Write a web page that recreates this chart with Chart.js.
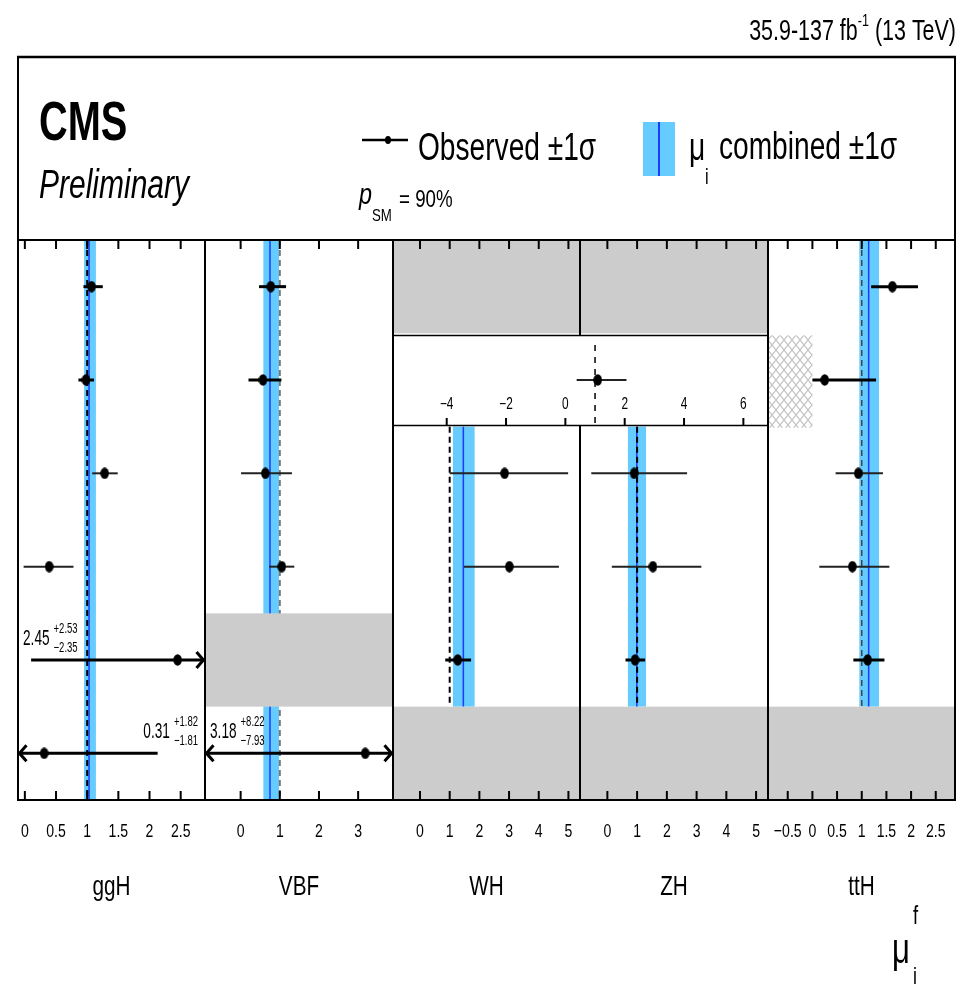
<!DOCTYPE html>
<html><head><meta charset="utf-8">
<script src="https://cdn.jsdelivr.net/npm/chart.js@4.4.0/dist/chart.umd.min.js"></script>
<style>
html,body{margin:0;padding:0;background:#fff;width:962px;height:986px;overflow:hidden;}
canvas{position:absolute;}
</style></head><body>
<canvas id="bg" width="962" height="986" style="left:0;top:0"></canvas>
<div id="panels"></div>
<canvas id="ov" width="962" height="986" style="left:0;top:0;pointer-events:none"></canvas>
<script>
// ---------------- data ----------------
const channels = ['γγ', 'ZZ', 'WW', 'ττ', 'bb', 'μμ'];
const modes = ['ggH', 'VBF', 'WH', 'ZH', 'ttH'];

// observed best fit and 68% CL interval bounds per decay channel (null = not measured)
const ggH_mu = [1.07, 0.98, 1.28, 0.39, 2.45, 0.31];
const ggH_lo = [0.94, 0.86, 1.08, -0.02, 0.10, -1.50];
const ggH_hi = [1.25, 1.11, 1.49, 0.78, 4.98, 2.13];
const VBF_mu = [0.77, 0.57, 0.63, 1.05, null, 3.18];
const VBF_lo = [0.47, 0.20, 0.01, 0.73, null, -4.75];
const VBF_hi = [1.16, 1.04, 1.31, 1.37, null, 11.40];
const WH_mu = [null, null, 2.85, 3.01, 1.27, null];
const WH_lo = [null, null, 1.00, 1.48, 0.85, null];
const WH_hi = [null, null, 4.99, 4.68, 1.72, null];
const ZH_mu = [null, null, 0.90, 1.53, 0.93, null];
const ZH_lo = [null, null, -0.54, 0.15, 0.61, null];
const ZH_hi = [null, null, 2.68, 3.16, 1.27, null];
const ttH_mu = [1.62, 0.25, 0.93, 0.81, 1.12, null];
const ttH_lo = [1.19, 0.00, 0.47, 0.14, 0.83, null];
const ttH_hi = [2.14, 1.29, 1.43, 1.56, 1.46, null];

// VH (WH+ZH merged) measurement for ZZ, shown in the inset
const VH_ZZ_mu = [1.09];
const VH_ZZ_lo = [0.38];
const VH_ZZ_hi = [2.06];

// combined signal strength per production mode
const comb_mu = [1.03, 0.75, 1.46, 0.99, 1.14];
const comb_lo = [0.95, 0.58, 1.11, 0.69, 0.95];
const comb_hi = [1.14, 0.98, 1.84, 1.30, 1.35];

// cells without a measurement (grey)
const ggH_na = [];
const VBF_na = [4];
const WH_na = [0, 5];
const ZH_na = [0, 5];
const ttH_na = [5];

// axis ranges and ticks
const ggH_range = [-0.11, 2.89];
const VBF_range = [-0.91, 3.89];
const WH_range = [-0.91, 5.39];
const ZH_range = [-0.92, 5.40];
const ttH_range = [-0.90, 2.89];
const ggH_ticks = [0, 0.5, 1, 1.5, 2, 2.5];
const VBF_ticks = [0, 1, 2, 3];
const WH_ticks = [0, 1, 2, 3, 4, 5];
const ZH_ticks = [0, 1, 2, 3, 4, 5];
const ttH_ticks = [-0.5, 0, 0.5, 1, 1.5, 2, 2.5];
const inset_range = [-5.81, 6.83];
const inset_ticks = [-4, -2, 0, 2, 4, 6];

const pSM = 90;
const lumiText = ['35.9-137 fb', '-1', ' (13 TeV)'];

// ---------------- styles ----------------
const FONT = '"Liberation Sans", Arial, Helvetica, sans-serif';
const BAND = '#66ccff', CENTRAL = '#1a3cff', GREY = '#cccccc';
const edges = [18, 205, 393, 580, 768, 955];
const TOP = 240, BOTTOM = 800;
const barWidth = [3, 3, 2, 2, 3, 3];
const smDash = ['#000', '#777', '#000', '#000', '#444'];
// annotated out-of-range points: [mode index, row, side]
const annot = [[0, 4, 'left'], [0, 5, 'right'], [1, 5, 'left']];

const MU = [ggH_mu, VBF_mu, WH_mu, ZH_mu, ttH_mu];
const LO = [ggH_lo, VBF_lo, WH_lo, ZH_lo, ttH_lo];
const HI = [ggH_hi, VBF_hi, WH_hi, ZH_hi, ttH_hi];
const NA = [ggH_na, VBF_na, WH_na, ZH_na, ttH_na];
const RANGE = [ggH_range, VBF_range, WH_range, ZH_range, ttH_range];
const TICKS = [ggH_ticks, VBF_ticks, WH_ticks, ZH_ticks, ttH_ticks];

function drawText(ctx, s, x, y, size, o = {}) {
  ctx.save();
  ctx.font = `${o.style || ''} ${o.weight || ''} ${size}px ${FONT}`;
  ctx.fillStyle = o.color || '#000';
  ctx.textBaseline = 'alphabetic';
  ctx.textAlign = 'left';
  const sx = o.sx || 0.74;
  const w = ctx.measureText(s).width * sx;
  let x0 = x;
  if (o.align === 'center') x0 = x - w / 2; else if (o.align === 'right') x0 = x - w;
  ctx.translate(x0, y); ctx.scale(sx, 1); ctx.fillText(s, 0, 0);
  ctx.restore();
  return w;
}
function measure(ctx, s, size, o = {}) {
  ctx.save(); ctx.font = `${o.style || ''} ${o.weight || ''} ${size}px ${FONT}`;
  const w = ctx.measureText(s).width * (o.sx || 0.74); ctx.restore(); return w;
}
function fmtTick(v) { return v < 0 ? '\u2212' + Math.abs(v) : String(v); }

// ellipse marker
const dot = document.createElement('canvas'); dot.width = 9; dot.height = 12;
{ const d = dot.getContext('2d'); d.fillStyle = '#000'; d.beginPath(); d.ellipse(4.5, 6, 4.3, 5.8, 0, 0, Math.PI * 2); d.fill(); }

function hatchPattern(ctx) {
  const p = document.createElement('canvas'); p.width = 8; p.height = 10;
  const g = p.getContext('2d'); g.strokeStyle = '#c4c4c4'; g.lineWidth = 1.2;
  g.beginPath(); g.moveTo(0, 0); g.lineTo(8, 10); g.moveTo(8, 0); g.lineTo(0, 10); g.stroke();
  return ctx.createPattern(p, 'repeat');
}

function errorBar(ctx, xs, y, lo, hi, lw, color) {
  const l = Math.max(lo, xs.min), h = Math.min(hi, xs.max);
  let pl = xs.getPixelForValue(l), ph = xs.getPixelForValue(h);
  if (lo < xs.min) pl = xs.left + 1.5;
  if (hi > xs.max) ph = xs.right - 1.5;
  ctx.save(); ctx.strokeStyle = color; ctx.lineWidth = lw; ctx.lineCap = 'butt';
  ctx.beginPath(); ctx.moveTo(pl, y); ctx.lineTo(ph, y); ctx.stroke();
  ctx.lineJoin = 'miter';
  if (lo < xs.min) { ctx.beginPath(); ctx.moveTo(pl + 7, y - 8); ctx.lineTo(pl, y); ctx.lineTo(pl + 7, y + 8); ctx.stroke(); }
  if (hi > xs.max) { ctx.beginPath(); ctx.moveTo(ph - 7, y - 8); ctx.lineTo(ph, y); ctx.lineTo(ph - 7, y + 8); ctx.stroke(); }
  ctx.restore();
}

function panelPlugin(k) {
  return {
    id: 'panel' + k,
    beforeDatasetsDraw(chart) {
      const ctx = chart.ctx, xs = chart.scales.x, ys = chart.scales.y, ca = chart.chartArea;
      const mu = MU[k], lo = LO[k], hi = HI[k];
      const rows = mu.map((v, i) => v == null ? -1 : i).filter(i => i >= 0);
      const r0 = Math.min(...rows), r1 = Math.max(...rows) + 1;
      const yb0 = ys.getPixelForValue(r0), yb1 = ys.getPixelForValue(r1);
      // combined band
      const bl = xs.getPixelForValue(comb_lo[k]), bh = xs.getPixelForValue(comb_hi[k]);
      ctx.fillStyle = BAND; ctx.fillRect(bl, yb0, bh - bl, yb1 - yb0);
      const bc = xs.getPixelForValue(comb_mu[k]);
      ctx.strokeStyle = CENTRAL; ctx.lineWidth = 1.5;
      ctx.beginPath(); ctx.moveTo(bc, yb0); ctx.lineTo(bc, yb1); ctx.stroke();
      // SM line
      const sm = xs.getPixelForValue(1);
      ctx.save(); ctx.strokeStyle = smDash[k]; ctx.lineWidth = k === 4 ? 1.5 : 2; ctx.setLineDash([6, 4]);
      ctx.beginPath(); ctx.moveTo(sm, yb0); ctx.lineTo(sm, yb1); ctx.stroke(); ctx.restore();
      // grey cells
      ctx.fillStyle = GREY;
      NA[k].forEach(r => {
        const a = ys.getPixelForValue(r), b = ys.getPixelForValue(r + 1);
        ctx.fillRect(ca.left, a, ca.right - ca.left, b - a);
      });
      // hatched physical boundary (ttH, ZZ: mu < 0)
      if (k === 4) {
        const a = ys.getPixelForValue(1), b = ys.getPixelForValue(2);
        ctx.fillStyle = hatchPattern(ctx);
        ctx.fillRect(ca.left + 1, a + 2, xs.getPixelForValue(0) - ca.left - 1, b - a - 1);
      }
      // error bars
      mu.forEach((v, i) => {
        if (v == null) return;
        const y = ys.getPixelForValue(i + 0.5);
        errorBar(ctx, xs, y, lo[i], hi[i], barWidth[i], barWidth[i] > 2 ? '#000' : '#222');
      });
      // ticks top and bottom
      ctx.strokeStyle = '#000'; ctx.lineWidth = 2;
      TICKS[k].forEach(t => {
        const px = xs.getPixelForValue(t);
        ctx.beginPath(); ctx.moveTo(px, ca.top); ctx.lineTo(px, ca.top + 9);
        ctx.moveTo(px, ca.bottom); ctx.lineTo(px, ca.bottom - 9); ctx.stroke();
        drawText(ctx, fmtTick(t), px, ca.bottom + 37, 19, { align: 'center', sx: 0.74 });
      });
      // production mode label
      drawText(ctx, modes[k], (ca.left + ca.right) / 2, ca.bottom + 95, 28, { align: 'center', sx: 0.74 });
      // annotations for out-of-range measurements
      annot.filter(a => a[0] === k).forEach(([m, r, side]) => {
        const v = mu[r];
        const main = v.toFixed(2), up = '+' + (hi[r] - v).toFixed(2), dn = '\u2212' + (v - lo[r]).toFixed(2);
        const yc = ys.getPixelForValue(r + 0.5);
        const wm = measure(ctx, main, 22, { sx: 0.62 });
        const ws = Math.max(measure(ctx, up, 14, { sx: 0.68 }), measure(ctx, dn, 14, { sx: 0.68 }));
        const total = wm + 4 + ws;
        const x0 = side === 'left' ? ca.left + 5 : ca.right - 7 - total;
        drawText(ctx, main, x0, yc - 15, 22, { sx: 0.62 });
        drawText(ctx, up, x0 + wm + 4, yc - 27, 14, { sx: 0.68 });
        drawText(ctx, dn, x0 + wm + 4, yc - 8, 14, { sx: 0.68 });
      });
    }
  };
}

const holder = document.getElementById('panels');
for (let k = 0; k < 5; k++) {
  const cv = document.createElement('canvas');
  const W = edges[k + 1] - edges[k], H = 986 - TOP;
  cv.width = W; cv.height = H;
  cv.style.left = edges[k] + 'px'; cv.style.top = TOP + 'px';
  cv.style.width = W + 'px'; cv.style.height = H + 'px';
  holder.appendChild(cv);
  const pts = MU[k].map((v, i) => v == null ? null : { x: v, y: i + 0.5 }).filter(p => p);
  new Chart(cv, {
    type: 'scatter',
    data: { datasets: [{ label: modes[k], data: pts, pointStyle: dot, pointRadius: 6, clip: false }] },
    options: {
      responsive: false, animation: false, devicePixelRatio: 1, events: [],
      layout: { autoPadding: false, padding: { left: 0, right: 0, top: 0, bottom: H - (BOTTOM - TOP) } },
      plugins: { legend: { display: false }, tooltip: { enabled: false } },
      scales: {
        x: { type: 'linear', min: RANGE[k][0], max: RANGE[k][1], display: false },
        y: { type: 'linear', min: 0, max: 6, reverse: true, display: false }
      }
    },
    plugins: [panelPlugin(k)]
  });
}

// inset: VH combined for ZZ
{
  const cv = document.createElement('canvas');
  const L = edges[2], W = edges[4] - edges[2], T = 334, H = 92;
  cv.width = W; cv.height = H; cv.style.left = L + 'px'; cv.style.top = T + 'px';
  cv.style.width = W + 'px'; cv.style.height = H + 'px';
  holder.appendChild(cv);
  new Chart(cv, {
    type: 'scatter',
    data: { datasets: [{ label: 'VH', data: VH_ZZ_mu.map(v => ({ x: v, y: 0.5 })), pointStyle: dot, pointRadius: 6, clip: false }] },
    options: {
      responsive: false, animation: false, devicePixelRatio: 1, events: [],
      layout: { autoPadding: false, padding: 0 },
      plugins: { legend: { display: false }, tooltip: { enabled: false } },
      scales: {
        x: { type: 'linear', min: inset_range[0], max: inset_range[1], display: false },
        y: { type: 'linear', min: 0, max: 1, reverse: true, display: false }
      }
    },
    plugins: [{
      id: 'inset',
      beforeDatasetsDraw(chart) {
        const ctx = chart.ctx, xs = chart.scales.x, ys = chart.scales.y, ca = chart.chartArea;
        ctx.fillStyle = '#fff'; ctx.fillRect(ca.left, ca.top, ca.right - ca.left, ca.bottom - ca.top);
        const sm = xs.getPixelForValue(1);
        ctx.save(); ctx.strokeStyle = '#000'; ctx.lineWidth = 1.5; ctx.setLineDash([6, 6]);
        ctx.beginPath(); ctx.moveTo(sm, ca.top + 11); ctx.lineTo(sm, ca.bottom); ctx.stroke(); ctx.restore();
        VH_ZZ_mu.forEach((v, i) => errorBar(ctx, xs, ys.getPixelForValue(0.5), VH_ZZ_lo[i], VH_ZZ_hi[i], 2, '#222'));
        ctx.strokeStyle = '#000'; ctx.lineWidth = 2;
        inset_ticks.forEach(t => {
          const px = xs.getPixelForValue(t);
          ctx.beginPath(); ctx.moveTo(px, ca.bottom); ctx.lineTo(px, ca.bottom - 8); ctx.stroke();
          drawText(ctx, fmtTick(t), px, ca.bottom - 17, 16, { align: 'center', sx: 0.74 });
        });
      }
    }]
  });
}

// ---------------- frame and header ----------------
{
  const ctx = document.getElementById('ov').getContext('2d');
  ctx.strokeStyle = '#000';
  const line = (x1, y1, x2, y2, w) => { ctx.lineWidth = w; ctx.beginPath(); ctx.moveTo(x1, y1); ctx.lineTo(x2, y2); ctx.stroke(); };
  line(edges[0] - 1, 57, edges[5] + 1, 57, 2.5);
  line(edges[0], 57, edges[0], BOTTOM + 1, 2);
  line(edges[5], 57, edges[5], BOTTOM + 1, 2);
  line(edges[0], TOP, edges[5], TOP, 2);
  line(edges[0], BOTTOM, edges[5], BOTTOM, 2);
  line(edges[1], TOP, edges[1], BOTTOM, 2);
  line(edges[2], TOP, edges[2], BOTTOM, 2);
  line(edges[4], TOP, edges[4], BOTTOM, 2);
  line(edges[3], TOP, edges[3], 335, 2);
  line(edges[3], 426, edges[3], BOTTOM, 2);
  line(edges[2], 335.5, edges[4], 335.5, 1.5);
  line(edges[2], 425.5, edges[4], 425.5, 1.5);

  const bg = document.getElementById('bg').getContext('2d');
  bg.fillStyle = '#fff'; bg.fillRect(0, 0, 962, 986);

  // lumi text, right aligned
  const ls = 0.74;
  let wA = measure(ctx, lumiText[0], 29, { sx: ls }), wB = measure(ctx, lumiText[1], 17, { sx: ls }), wC = measure(ctx, lumiText[2], 29, { sx: ls });
  let x = 956 - (wA + wB + wC);
  drawText(ctx, lumiText[0], x, 40, 29, { sx: ls });
  drawText(ctx, lumiText[1], x + wA, 26, 17, { sx: ls });
  drawText(ctx, lumiText[2], x + wA + wB, 40, 29, { sx: ls });

  drawText(ctx, 'CMS', 39, 140, 56, { weight: 'bold', sx: 0.71 });
  drawText(ctx, 'Preliminary', 39, 198, 40, { style: 'italic', sx: 0.75 });

  // legend: observed
  ctx.strokeStyle = '#000';
  ctx.lineWidth = 2.5; ctx.beginPath(); ctx.moveTo(362, 140); ctx.lineTo(408, 140); ctx.stroke();
  ctx.fillStyle = '#000'; ctx.beginPath(); ctx.ellipse(388, 140, 3, 4, 0, 0, Math.PI * 2); ctx.fill();
  drawText(ctx, 'Observed \u00b11\u03c3', 418, 160, 38, { sx: 0.74 });
  // legend: combined
  ctx.fillStyle = BAND; ctx.fillRect(643, 122, 32, 54);
  ctx.strokeStyle = CENTRAL; ctx.lineWidth = 2; ctx.beginPath(); ctx.moveTo(659, 122); ctx.lineTo(659, 176); ctx.stroke();
  drawText(ctx, '\u03bc', 689, 160, 38, { sx: 0.74 });
  drawText(ctx, 'i', 705, 184, 22, { sx: 0.74 });
  drawText(ctx, 'combined \u00b11\u03c3', 719, 159, 38, { sx: 0.74 });
  // p_SM
  drawText(ctx, 'p', 359, 204, 30, { style: 'italic', sx: 0.78 });
  drawText(ctx, 'SM', 372, 221, 17, { sx: 0.78 });
  drawText(ctx, '= ' + pSM + '%', 399, 207, 24, { sx: 0.78 });

  // x-axis title mu_i^f
  drawText(ctx, '\u03bc', 892, 963, 42, { sx: 0.74 });
  drawText(ctx, 'f', 913, 924, 25, { sx: 0.74 });
  drawText(ctx, 'i', 913, 984, 24, { sx: 0.74 });
}
</script>
</body></html>
